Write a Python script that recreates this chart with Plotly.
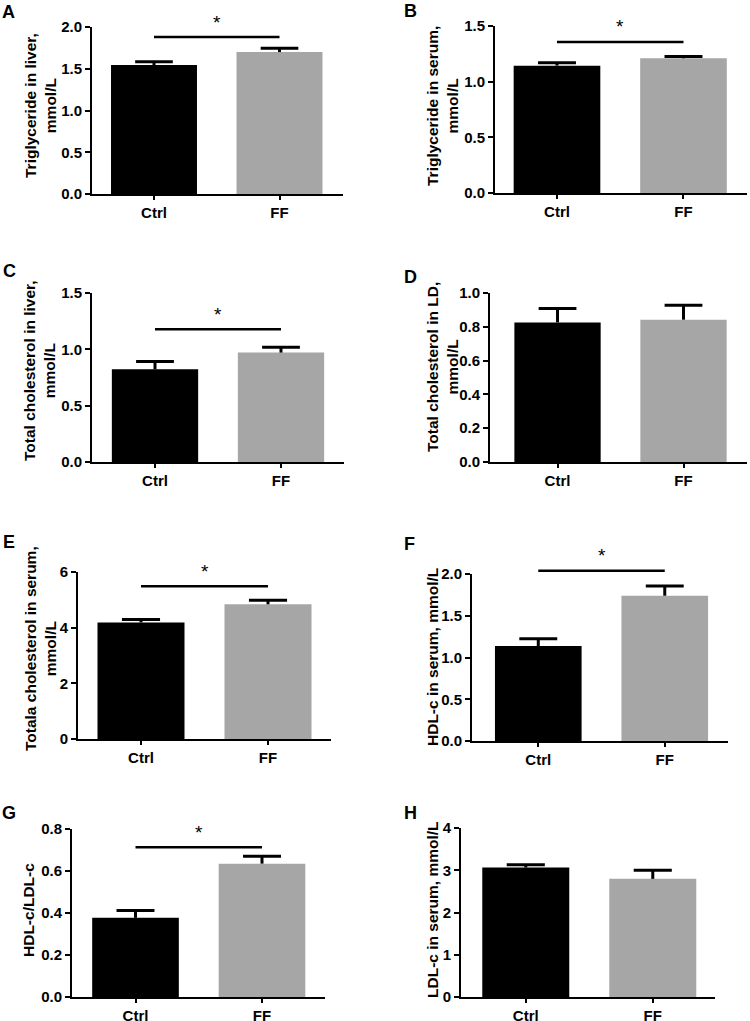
import plotly.graph_objects as go

# ---------------- data ----------------
categories = ["Ctrl", "FF"]
panel_letters = ["A", "B", "C", "D", "E", "F", "G", "H"]
y_titles = [
    "Triglyceride in liver,<br>mmol/L",
    "Triglyceride in serum,<br>mmol/L",
    "Total cholesterol in liver,<br>mmol/L",
    "Total cholesterol in LD,<br>mmol/L",
    "Totala cholesterol in serum,<br>mmol/L",
    "HDL-c in serum, mmol/L",
    "HDL-c/LDL-c",
    "LDL-c in serum, mmol/L",
]
tg_liver = [1.545, 1.70]
tg_liver_err = [0.040, 0.045]
tg_serum = [1.144, 1.210]
tg_serum_err = [0.027, 0.015]
tc_liver = [0.823, 0.971]
tc_liver_err = [0.068, 0.048]
tc_ld = [0.826, 0.842]
tc_ld_err = [0.083, 0.085]
tc_serum = [4.19, 4.84]
tc_serum_err = [0.107, 0.143]
hdl_serum = [1.138, 1.740]
hdl_serum_err = [0.088, 0.116]
hdl_ldl_ratio = [0.377, 0.635]
hdl_ldl_ratio_err = [0.035, 0.035]
ldl_serum = [3.065, 2.796]
ldl_serum_err = [0.064, 0.206]

means = [tg_liver, tg_serum, tc_liver, tc_ld, tc_serum, hdl_serum, hdl_ldl_ratio, ldl_serum]
errors = [tg_liver_err, tg_serum_err, tc_liver_err, tc_ld_err, tc_serum_err,
          hdl_serum_err, hdl_ldl_ratio_err, ldl_serum_err]
# significance bar heights (None = no significance marker)
sig_heights = [1.88, 1.357, 1.179, None, 5.49, 2.04, 0.7125, None]
y_max = [2.0, 1.5, 1.5, 1.0, 6, 2.0, 0.8, 4]
y_dtick = [0.5, 0.5, 0.5, 0.2, 2, 0.5, 0.2, 1]
y_fmt = [".1f", ".1f", ".1f", ".1f", "d", ".1f", ".1f", "d"]

# ---------------- layout (pixel geometry) ----------------
W, H = 750, 1021
# plot area: x0, x1, ytop, ybottom (px)
areas = [
    (92, 343, 27, 194),
    (495, 747, 26, 193),
    (92, 344, 293, 462),
    (490, 747, 293, 462),
    (78, 331, 572, 739),
    (472, 728, 574, 741),
    (72, 325, 829, 997),
    (461, 715, 828, 997),
]
x_ranges = [(-0.494, 1.506), (-0.49, 1.502), (-0.5, 1.5), (-0.536, 1.504),
            (-0.496, 1.496), (-0.524, 1.5), (-0.502, 1.498), (-0.51, 1.49)]
letter_pos = [(8, 12), (410, 11), (9, 271), (410, 277), (9, 542), (409, 544), (9, 813), (410, 813)]
title_pos = [(40, 106), (442, 106), (40, 371), (442, 367), (40, 649), (432, 657), (28, 910), (432, 909)]

FONT = "Liberation Sans, Arial, sans-serif"
bar_colors = ["#000000", "#A6A6A6"]
bar_width = 0.685
cap_half = 0.15
EXTRA = 22  # px of headroom for the significance bar helper axis

fig = go.Figure()
annotations = []
xs = list(range(len(categories)))
helper_idx = 9

for i in range(8):
    ax = "" if i == 0 else str(i + 1)
    xref, yref = "x" + ax, "y" + ax
    x0, x1, yt, yb = areas[i]

    # bars
    fig.add_trace(go.Bar(
        x=xs, y=means[i], width=bar_width,
        marker=dict(color=bar_colors, line=dict(width=0)),
        xaxis=xref, yaxis=yref, showlegend=False, hoverinfo="skip",
    ))
    # error bars (upper only)
    ex, ey = [], []
    for j, (m, e) in enumerate(zip(means[i], errors[i])):
        ex += [xs[j], xs[j], None, xs[j] - cap_half, xs[j] + cap_half, None]
        ey += [m, m + e, None, m + e, m + e, None]
    fig.add_trace(go.Scatter(
        x=ex, y=ey, mode="lines", line=dict(color="black", width=3),
        xaxis=xref, yaxis=yref, showlegend=False, hoverinfo="skip",
    ))
    # significance bar on a hidden helper axis with the same scale but more headroom
    if sig_heights[i] is not None:
        top_px = max(yt - EXTRA, 0)
        hname = "y" + str(helper_idx)
        fig.update_layout(**{
            "yaxis" + str(helper_idx): dict(
                domain=[1 - yb / H, 1 - top_px / H], anchor=xref, visible=False,
                range=[0, y_max[i] * (yb - top_px) / (yb - yt)], fixedrange=True,
                automargin=False, showgrid=False, zeroline=False,
            )
        })
        fig.add_trace(go.Scatter(
            x=[xs[0], xs[1]], y=[sig_heights[i], sig_heights[i]], mode="lines",
            line=dict(color="black", width=2.5),
            xaxis=xref, yaxis=hname, showlegend=False, hoverinfo="skip",
        ))
        annotations.append(dict(
            x=(xs[0] + xs[1]) / 2, y=sig_heights[i], xref=xref, yref=hname,
            text="*", showarrow=False, yanchor="middle", yshift=15,
            font=dict(family=FONT, size=19, color="black"),
        ))
        helper_idx += 1

    axis_common = dict(
        showline=True, linecolor="black", linewidth=2, showgrid=False, zeroline=False,
        ticks="outside", tickcolor="black", tickwidth=2, automargin=False,
        tickfont=dict(family=FONT, size=15, color="black", weight="bold"),
    )
    fig.update_layout(**{
        "xaxis" + ax: dict(
            domain=[x0 / W, x1 / W], anchor=yref, range=list(x_ranges[i]),
            tickvals=xs, ticktext=categories, ticklen=4, fixedrange=True, **axis_common,
        ),
        "yaxis" + ax: dict(
            domain=[1 - yb / H, 1 - yt / H], anchor=xref, range=[0, y_max[i]],
            dtick=y_dtick[i], tick0=0, tickformat=y_fmt[i], ticklen=5, fixedrange=True,
            **axis_common,
        ),
    })

    # axis title
    tx, ty = title_pos[i]
    annotations.append(dict(
        x=tx / W, y=1 - ty / H, xref="paper", yref="paper", text=y_titles[i],
        textangle=-90, showarrow=False, xanchor="center", yanchor="middle",
        font=dict(family=FONT, size=15.5, color="black", weight="bold"),
    ))
    # panel letter
    lx, ly = letter_pos[i]
    annotations.append(dict(
        x=lx / W, y=1 - ly / H, xref="paper", yref="paper", text=panel_letters[i],
        showarrow=False, xanchor="center", yanchor="middle",
        font=dict(family=FONT, size=18, color="black", weight="bold"),
    ))

fig.update_layout(
    width=W, height=H, margin=dict(l=0, r=0, t=0, b=0, pad=0),
    paper_bgcolor="white", plot_bgcolor="rgba(0,0,0,0)",
    annotations=annotations, showlegend=False,
)
fig.write_html(
    "out.html",
    config={"displayModeBar": False},
    post_script="document.body.style.margin='0';document.body.style.overflow='hidden';",
)
